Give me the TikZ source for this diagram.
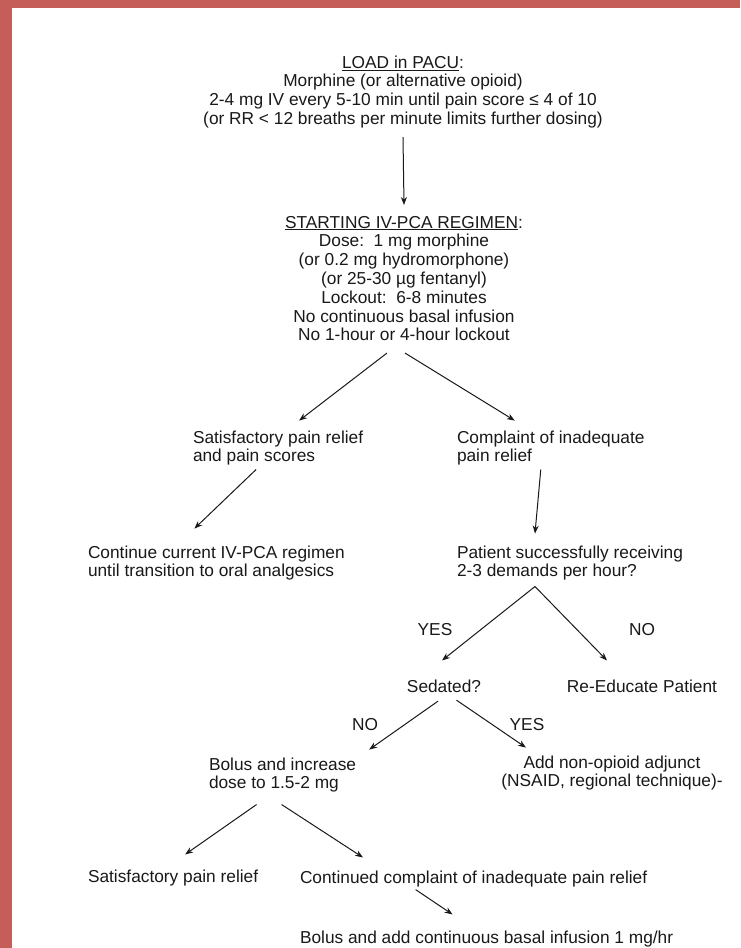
\documentclass[tikz,border=0pt]{standalone}
\usepackage{fontspec}
\setmainfont{Liberation Sans}
\usetikzlibrary{arrows.meta}
\definecolor{framered}{RGB}{197,94,89}
\definecolor{inkgray}{RGB}{25,25,25}

\begin{document}
\begin{tikzpicture}[x=1pt, y=-1pt, >={Stealth[length=8pt,width=6pt]},
    every node/.style={inner sep=0pt, outer sep=0pt, text=inkgray, font=\fontsize{17.3pt}{18.8pt}\selectfont},
    block/.style={align=center, anchor=north},
    leftblock/.style={align=left, anchor=north west},
    arr/.style={->, draw=inkgray, line width=1pt}]
    % Page with the red frame on the left and top
    \useasboundingbox (0,0) rectangle (740,948);
    \fill[framered] (0,0) rectangle (740,948);
    \fill[white] (12,8) rectangle (740,948);

    % Text blocks of the protocol
    \node[block] (load) at (403,55.6) {\underline{LOAD in PACU}:\\
        Morphine (or alternative opioid)\\
        2-4 mg IV every 5-10 min until pain score ≤ 4 of 10\\
        (or RR < 12 breaths per minute limits further dosing)};
    \node[block] (start) at (404,216) {\underline{STARTING IV-PCA REGIMEN}:\\
        Dose:~~1 mg morphine\\
        (or 0.2 mg hydromorphone)\\
        (or 25-30 µg fentanyl)\\
        Lockout:~~6-8 minutes\\
        No continuous basal infusion\\
        No 1-hour or 4-hour lockout};
    \node[leftblock] (sat) at (193,430.6) {Satisfactory pain relief\\and pain scores};
    \node[leftblock] (compl) at (457,430.6) {Complaint of inadequate\\pain relief};
    \node[leftblock] (cont) at (88,545.6) {Continue current IV-PCA regimen\\until transition to oral analgesics};
    \node[leftblock] (pat) at (457,545.6) {Patient successfully receiving\\2-3 demands per hour?};
    \node[anchor=base] (sed) at (444,692) {Sedated?};
    \node[anchor=base] (reedu) at (642,692) {Re-Educate Patient};
    \node[leftblock] (bolus) at (209,757.6) {Bolus and increase\\dose to 1.5-2 mg};
    \node[block] (add) at (612,755.6) {Add non-opioid adjunct\\(NSAID, regional technique)-};
    \node[anchor=base west] (sat2) at (88,882) {Satisfactory pain relief};
    \node[anchor=base west] (contd) at (300,883) {Continued complaint of inadequate pain relief};
    \node[anchor=base west] (basal) at (300,943) {Bolus and add continuous basal infusion 1 mg/hr};

    % Branch labels
    \node[anchor=base] (yes1) at (435,635) {YES};
    \node[anchor=base] (no1) at (642,635) {NO};
    \node[anchor=base] (no2) at (365,730) {NO};
    \node[anchor=base] (yes2) at (527,730) {YES};

    % Arrows
    \draw[arr] ([shift={(0,9)}]load.south) -- ([shift={(0,-11)}]start.north);
    \draw[arr] ([shift={(-17,12)}]start.south) -- ([shift={(21,-10)}]sat.north);
    \draw[arr] ([shift={(1,12)}]start.south) -- ([shift={(-36,-10)}]compl.north);
    \draw[arr] ([shift={(-22,4)}]sat.south) -- ([shift={(-22,-17)}]cont.north);
    \draw[arr] ([shift={(-10,4)}]compl.south) -- ([shift={(-35,-12)}]pat.north);
    \draw[arr] ([shift={(-35,6)}]pat.south) -- ([shift={(-2,-19)}]sed.north);
    \draw[arr] ([shift={(-35,6)}]pat.south) -- ([shift={(-35,-19)}]reedu.north);
    \draw[arr] ([shift={(-6,9)}]sed.south) -- ([shift={(13,-8)}]bolus.north east);
    \draw[arr] ([shift={(12.5,8)}]sed.south) -- ([shift={(-86,-8)}]add.north);
    \draw[arr] ([shift={(-26,12)}]bolus.south) -- ([shift={(12,-15)}]sat2.north);
    \draw[arr] ([shift={(-1,12)}]bolus.south) -- ([shift={(63,-13)}]contd.north west);
    \draw[arr] ([shift={(-58,3)}]contd.south) -- ([shift={(-34,-16)}]basal.north);
\end{tikzpicture}
\end{document}
